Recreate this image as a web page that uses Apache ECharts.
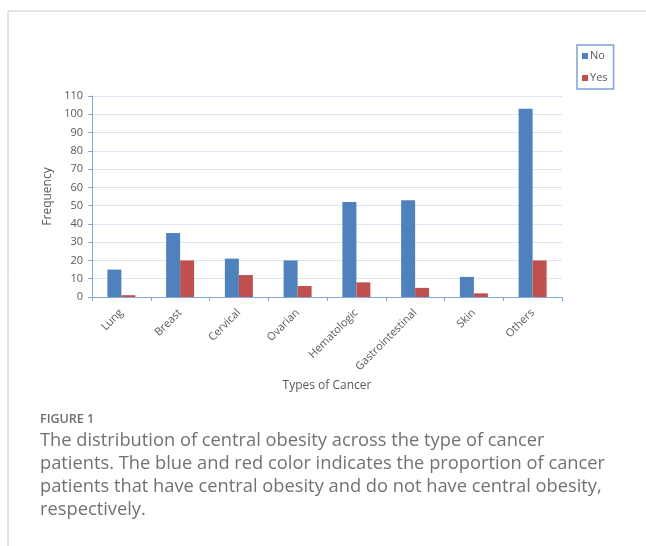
<!DOCTYPE html>
<html>
<head>
<meta charset="utf-8">
<script src="https://cdn.jsdelivr.net/npm/echarts@6/dist/echarts.min.js"></script>
<style>
  html, body { margin: 0; padding: 0; background: #fff; }
  #chart { width: 646px; height: 546px; }
</style>
</head>
<body>
<div id="chart"></div>
<script>
// categories and counts
var cancerTypes = ['Lung', 'Breast', 'Cervical', 'Ovarian', 'Hematologic', 'Gastrointestinal', 'Skin', 'Others'];
var noValues = [15, 35, 21, 20, 52, 53, 11, 103];
var yesValues = [1, 20, 12, 6, 8, 5, 2, 20];
var captionLines = [
    'The distribution of central obesity across the type of cancer',
    'patients. The blue and red color indicates the proportion of cancer',
    'patients that have central obesity and do not have central obesity,',
    'respectively.'
];

var myChart = echarts.init(document.getElementById('chart'));

// caption text under the chart
var captionEls = [];
for (var i = 0; i < captionLines.length; i++) {
    captionEls.push({
        type: 'text',
        left: 40,
        top: 432 + i * 23,
        style: {
            text: captionLines[i],
            fill: '#727272',
            font: '18.3px "Open Sans", sans-serif'
        }
    });
}

var option = {
    backgroundColor: '#fff',
    color: ['#4f81bd', '#c0504d'],
    textStyle: { fontFamily: '"Open Sans", sans-serif' },
    legend: {
        orient: 'vertical',
        left: 577,
        top: 45,
        padding: [5, 6, 5, 5],
        itemGap: 10,
        itemWidth: 6,
        itemHeight: 6,
        icon: 'rect',
        borderColor: '#7ea1d3',
        borderWidth: 1.5,
        textStyle: { color: '#595959', fontSize: 11, padding: [0, 0, 0, -3], lineHeight: 12 },
        data: ['No', 'Yes']
    },
    grid: {
        left: 92,
        right: 84,
        top: 96,
        bottom: 249
    },
    xAxis: {
        type: 'category',
        data: cancerTypes,
        name: 'Types of Cancer',
        nameLocation: 'middle',
        nameGap: 83,
        nameTextStyle: { color: '#595959', fontSize: 12 },
        axisLine: { lineStyle: { color: '#86a8d8', width: 1 } },
        axisTick: { show: true, length: 4, lineStyle: { color: '#86a8d8' } },
        axisLabel: {
            rotate: 45,
            interval: 0,
            margin: 14,
            color: '#595959',
            fontSize: 11
        }
    },
    yAxis: {
        type: 'value',
        min: 0,
        max: 110,
        interval: 10,
        name: 'Frequency',
        nameLocation: 'middle',
        nameGap: 34,
        nameTextStyle: { color: '#595959', fontSize: 12 },
        axisLine: { show: true, lineStyle: { color: '#86a8d8', width: 1 } },
        axisTick: { show: true, length: 4, lineStyle: { color: '#86a8d8' } },
        axisLabel: { color: '#595959', fontSize: 11, margin: 9 },
        splitLine: { lineStyle: { color: '#dce4f0', width: 1 } }
    },
    series: [
        {
            name: 'No',
            type: 'bar',
            data: noValues,
            barWidth: 14,
            barGap: '0%'
        },
        {
            name: 'Yes',
            type: 'bar',
            data: yesValues,
            barWidth: 14,
            barGap: '0%'
        }
    ],
    graphic: [
        {
            type: 'line',
            shape: { x1: 8, y1: 11, x2: 646, y2: 11 },
            style: { stroke: '#c8c8c8', lineWidth: 1 }
        },
        {
            type: 'line',
            shape: { x1: 8, y1: 11, x2: 8, y2: 546 },
            style: { stroke: '#c8c8c8', lineWidth: 1 }
        },
        {
            type: 'text',
            left: 40,
            top: 413,
            style: {
                text: 'FIGURE 1',
                fill: '#6d6d6d',
                font: '600 12.5px "Open Sans", sans-serif'
            }
        }
    ].concat(captionEls)
};

myChart.setOption(option);
</script>
</body>
</html>
